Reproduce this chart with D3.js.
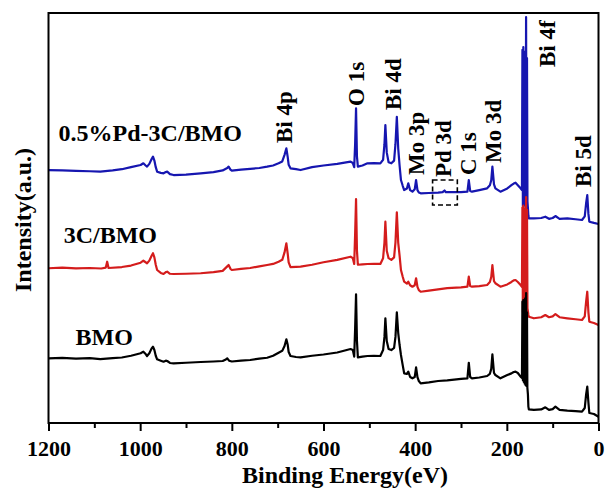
<!DOCTYPE html>
<html>
<head>
<meta charset="utf-8">
<script src="https://cdn.jsdelivr.net/npm/d3@7"></script>
<style>
  html, body { margin: 0; padding: 0; background: #fff; }
  svg text { font-family: "Liberation Serif", "Times New Roman", serif; font-weight: bold; fill: #000; }
</style>
</head>
<body>
<svg id="chart" width="605" height="490"></svg>
<script>
// XPS survey spectra, stacked vertically: [binding energy (eV), intensity (a.u.)]
// The Bi 4f region is sampled densely around the saturated doublet.
const spectrumBMO = [
  [1200,7.89],[1170,7.95],[1140,7.85],[1110,7.9],[1087,7.8],[1060,7.9],[1040,7.99],[1020,8.2],
  [999,8.5],[993,8.7],[988,8.4],[985,8.17],[980,8.5],[975,9.1],[972,9.3],[969,8.9],[966,8.2],
  [963,7.77],[955,7.6],[949,7.48],[944,7.6],[941,7.56],[935,7.32],[927,7.28],[900,7.35],[868,7.44],
  [840,7.5],[820,7.56],[813,7.75],[810,7.89],[806,7.6],[800,7.5],[780,7.6],[760,7.68],[740,7.85],
  [723,7.96],[710,8.2],[698,8.57],[690,8.8],[685,9.4],[681,10.21],[678,9.5],[676,8.66],[672,8.17],
  [660,8.05],[650,8.01],[625,8.2],[600,8.35],[570,8.6],[541,9.02],[536,8.9],[533,8.1],[531,11.5],
  [529,15.7],[527,10],[525,8.01],[515,8.1],[504,8.17],[490,8.2],[476,8.17],[470,8.9],[467,10.5],
  [465,12.77],[462,10],[458,9.02],[452,8.9],[446,9.15],[443,10.5],[440,13.5],[437,11],[434,9.51],
  [431,8.29],[427,7.0],[424,6.06],[418,5.98],[415,6.26],[411,5.61],[406,5.45],[401,5.6],[398,6.79],
  [395,5.6],[392,5.12],[388,4.84],[370,4.95],[350,5.12],[330,5.2],[300,5.37],[286,5.45],[283,7.35],
  [280,5.61],[276,5.45],[260,5.55],[243,5.73],[237,6.0],[234,6.6],[231.5,8.38],[228,6.1],[225,5.85],
  [214,5.45],[199,5.85],[190,6.05],[185,6.22],[181,6.26],[176,6.1],[170,5.65],[167,5.5],
  [166,14.8],[165,5.2],[164,15],[163,5],[162,15],[161,4.8],[160,15.2],[159,4.6],[158,15.85],
  [157,4.5],[156,13.5],[155.2,4.3],[154,3.5],[153,2],[152,1.67],[141,1.59],[125,1.65],[116,1.91],
  [108,1.6],[100,1.7],[94,1.99],[85,1.6],[68,1.5],[50,1.45],[36,1.38],[30,1.83],[27,3.5],
  [24.5,4.43],[22,2.5],[20,1.22],[10,1.1],[0,0.77]
];

const spectrum3C = [
  [1200,18.87],[1170,18.95],[1140,18.85],[1110,18.9],[1085,18.84],[1075,18.95],[1072,19.67],[1069,18.9],
  [1040,19.02],[1020,19.2],[999,19.55],[993,19.79],[988,19.6],[985,19.48],[980,19.8],[975,20.4],
  [972,20.7],[969,20.2],[966,19.3],[963,18.66],[955,18.3],[949,18.17],[944,18.4],[941,18.45],
  [935,18.2],[927,18.17],[900,18.2],[868,18.26],[840,18.4],[820,18.55],[810,19.1],[807,19.27],
  [803,18.8],[800,18.66],[780,18.8],[760,18.9],[740,19.1],[723,19.27],[710,19.4],[698,19.67],
  [690,19.9],[685,20.8],[681,21.91],[678,20.6],[676,19.6],[672,19.02],[660,19.05],[650,19.06],
  [625,19.3],[600,19.6],[570,19.9],[541,20.28],[536,20.1],[533,19.4],[531,23],[529,27.32],[527,21],
  [525,19.3],[515,19.35],[504,19.39],[490,19.4],[476,19.4],[470,20.1],[467,22],[465,24.55],[462,21],
  [458,20.1],[452,19.9],[446,20.2],[443,22],[440,25.7],[437,22],[434,20.4],[431,18.66],[427,17.8],
  [424,17.23],[418,17.0],[415,17.23],[411,16.8],[406,16.62],[401,16.8],[398,17.65],[395,16.6],
  [392,16.2],[388,16.01],[370,16.15],[350,16.3],[330,16.45],[300,16.55],[286,16.62],[283,17.84],
  [280,16.7],[276,16.62],[260,16.7],[243,16.83],[237,17.2],[234,17.8],[231.5,19.27],[228,17.3],
  [225,17.04],[214,16.62],[199,16.9],[190,17.2],[185,17.4],[181,17.44],[176,17.2],[170,16.83],
  [167,16.6],[166,26.3],[165,13.5],[164,26.5],[163,13.5],[162,26.2],[161,13.5],[160,26],[159,13.5],
  [158,27.56],[157,13.5],[156,26],[155,14],[154,13.6],[153,13.2],[152,12.96],[141,12.77],[125,12.9],
  [116,13.17],[108,12.9],[100,13.0],[94,13.29],[85,12.9],[68,12.77],[50,12.65],[36,12.56],[30,13.0],
  [27,14.8],[24.5,16.01],[22,13.5],[20,12.35],[10,12.2],[0,11.95]
];

const spectrumPd = [
  [1200,30.85],[1170,30.8],[1140,30.75],[1110,30.7],[1087,30.65],[1060,30.8],[1040,30.95],[1020,31.2],
  [999,31.46],[993,31.67],[988,31.4],[985,31.26],[980,31.6],[975,32.2],[972,32.48],[969,32],[966,31.2],
  [963,30.65],[955,30.5],[949,30.45],[944,30.6],[941,30.65],[935,30.35],[927,30.24],[900,30.3],
  [868,30.45],[840,30.6],[820,30.8],[810,31.1],[807,31.26],[803,30.9],[800,30.77],[780,30.9],
  [760,31.0],[740,31.1],[723,31.26],[710,31.4],[698,31.67],[690,31.9],[685,32.7],[681,33.5],
  [678,32.4],[676,31.5],[672,31.06],[660,30.95],[650,30.85],[625,31.2],[600,31.4],[570,31.6],
  [541,31.87],[536,31.7],[533,31.2],[531,34],[529,38.38],[527,32.5],[525,31.26],[515,31.4],
  [504,31.67],[490,31.7],[476,31.67],[470,32.1],[467,34],[465,36.34],[462,33],[458,31.8],[452,31.67],
  [446,32.0],[443,34],[440,37.35],[437,33.5],[434,31.4],[431,29.63],[427,28.9],[424,28.41],[418,28.6],
  [415,29.23],[411,28.4],[406,28.21],[401,28.5],[398,29.63],[395,28.4],[392,28.1],[388,28.01],
  [370,28.05],[350,28.1],[340,28.15],[336,28.35],[333,28.15],[300,28.15],[286,28.21],[283,29.63],
  [280,28.3],[276,28.21],[260,28.4],[243,28.62],[237,29.0],[234,29.6],[231.5,31.26],[228,29.1],
  [225,28.62],[214,28.21],[199,28.6],[190,29.0],[185,29.2],[181,29.3],[176,29.0],[170,28.62],
  [167,28.4],[166,45.5],[165,26.5],[164,45.85],[163,26.5],[162,45.3],[161,26.5],[160,45.2],[159,26.5],
  [158,49.51],[157,26.5],[156,44.5],[155,27],[154,26.2],[153,25.3],[152,24.96],[141,24.96],[125,25.0],
  [116,25.16],[108,24.9],[100,25.0],[94,25.24],[85,24.9],[68,24.96],[50,24.85],[36,24.76],[30,25.2],
  [27,26.8],[24.5,27.8],[22,25.5],[20,24.55],[10,24.4],[0,24.27]
];

const sampleNames = ["0.5%Pd-3C/BMO", "3C/BMO", "BMO"];
const sampleColors = ["#1616b0", "#d41c1c", "#000000"];
const sampleSpectra = [spectrumPd, spectrum3C, spectrumBMO];
// where each sample name sits: [binding energy, intensity]
const sampleLabelAt = [[1178, 34.4], [1167, 21.9], [1141, 9.5]];

// peak assignments and the point (binding energy, intensity) where each rotated label begins
const peakNames = ["Bi 4p", "O 1s", "Bi 4d", "Mo 3p", "Pd 3d", "C 1s", "Mo 3d", "Bi 4f", "Bi 5d"];
const peakLabelAt = [
  [668.7, 34.15], [511.6, 38.66], [430.9, 38.17], [380.7, 30.24], [321.8, 30.0],
  [267.3, 30.24], [212.7, 31.71], [94.9, 43.41], [16.4, 28.78]
];
// dashed box marking the Pd 3d region: [BE high, BE low, intensity top, intensity bottom]
const pdRegion = [362, 308, 29.63, 26.59];

const xMajorTicks = [1200, 1000, 800, 600, 400, 200, 0];
const xMinorTicks = [1100, 900, 700, 500, 300, 100];

const svg = d3.select("#chart");
const plotLeft = 48.5, plotRight = 598.5, plotTop = 13, plotBottom = 423;

const x = d3.scaleLinear().domain([1200, 0]).range([plotLeft, plotRight]);
const y = d3.scaleLinear().domain([0, 50]).range([plotBottom, plotTop]);

const line = d3.line().x(d => x(d[0])).y(d => y(d[1]));

// spectra: drawn from top trace to bottom trace so lower traces overlay
svg.append("g").selectAll("path")
  .data(sampleSpectra)
  .join("path")
  .attr("d", line)
  .attr("fill", "none")
  .attr("stroke", (d, i) => sampleColors[i])
  .attr("stroke-width", 2.2)
  .attr("stroke-linejoin", "round");

// plot frame
svg.append("rect")
  .attr("x", plotLeft).attr("y", plotTop)
  .attr("width", plotRight - plotLeft).attr("height", plotBottom - plotTop)
  .attr("fill", "none").attr("stroke", "#000").attr("stroke-width", 2);

// bottom axis: major and minor ticks
const majorAxis = d3.axisBottom(x).tickValues(xMajorTicks).tickSize(8).tickPadding(9).tickFormat(d3.format("d"));
const minorAxis = d3.axisBottom(x).tickValues(xMinorTicks).tickSize(5).tickFormat("");
const gMinor = svg.append("g").attr("transform", `translate(0,${plotBottom})`).call(minorAxis);
const gMajor = svg.append("g").attr("transform", `translate(0,${plotBottom})`).call(majorAxis);
[gMinor, gMajor].forEach(g => {
  g.select(".domain").remove();
  g.selectAll("line").attr("stroke", "#000").attr("stroke-width", 2);
});
gMajor.selectAll("text")
  .style("font-family", "'Liberation Serif', 'Times New Roman', serif")
  .style("font-weight", "bold")
  .style("font-size", "22px")
  .attr("fill", "#000");

// axis titles
svg.append("text")
  .attr("x", 345).attr("y", 483)
  .attr("text-anchor", "middle")
  .style("font-size", "24px")
  .text("Binding Energy(eV)");

svg.append("text")
  .attr("transform", "translate(31,220) rotate(-90)")
  .attr("text-anchor", "middle")
  .style("font-size", "24px")
  .text("Intensity(a.u.)");

// sample names
svg.append("g").selectAll("text")
  .data(sampleNames)
  .join("text")
  .attr("x", (d, i) => x(sampleLabelAt[i][0]))
  .attr("y", (d, i) => y(sampleLabelAt[i][1]))
  .style("font-size", "24px")
  .text(d => d);

// peak assignments, rotated
svg.append("g").selectAll("text")
  .data(peakNames)
  .join("text")
  .attr("transform", (d, i) => `translate(${x(peakLabelAt[i][0])},${y(peakLabelAt[i][1])}) rotate(-90)`)
  .style("font-size", "23px")
  .text(d => d);

// dashed box around the Pd 3d region
svg.append("rect")
  .attr("x", x(pdRegion[0]))
  .attr("y", y(pdRegion[2]))
  .attr("width", x(pdRegion[1]) - x(pdRegion[0]))
  .attr("height", y(pdRegion[3]) - y(pdRegion[2]))
  .attr("fill", "none")
  .attr("stroke", "#000")
  .attr("stroke-width", 1.6)
  .attr("stroke-dasharray", "5,3");
</script>
</body>
</html>
